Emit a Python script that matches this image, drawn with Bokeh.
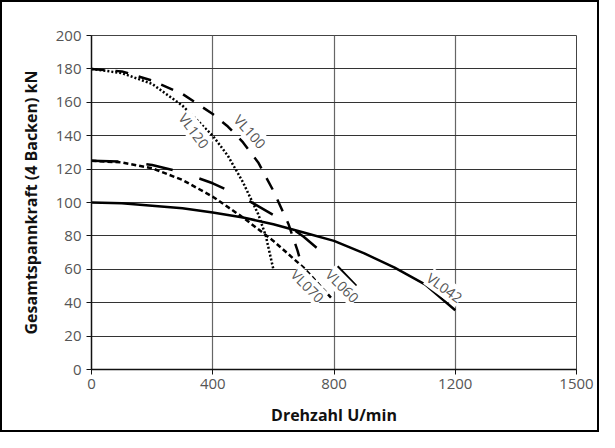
from bokeh.plotting import figure
from bokeh.models import Range1d, FixedTicker, Label
from bokeh.embed import file_html
from bokeh.resources import INLINE
import math

# ---- data ----
vl042_x = [0, 100, 200, 300, 400, 500, 600, 700, 800, 900, 1000, 1100, 1200]
vl042_y = [100, 99.5, 98, 96.5, 94, 91, 87, 82, 77, 69.5, 61, 51, 35.5]

vl120_x = [0, 100, 200, 300, 400, 450, 500, 550, 575, 600]
vl120_y = [180, 177.5, 171, 158, 140, 128, 112, 93, 80, 60]

vl100_x = [0, 100, 200, 300, 400, 450, 500, 550, 600, 650, 680, 697]
vl100_y = [180, 178.5, 173, 165, 153, 145.5, 136, 124, 107, 87, 71, 60]

vl070_x = [0, 100, 200, 300, 400, 500, 600, 700, 790]
vl070_y = [125, 124, 120.5, 113.5, 103.5, 91, 77, 61, 43]

vl060_x = [0, 100, 200, 300, 400, 500, 600, 700, 800, 905]
vl060_y = [125, 124.5, 122.5, 118, 111.5, 103, 92.5, 79.5, 64, 44]

x_ticks = [0, 400, 800, 1200, 1600]
x_tick_labels = ["0", "400", "800", "1200", "1500"]
y_ticks = [0, 20, 40, 60, 80, 100, 120, 140, 160, 180, 200]

x_label = "Drehzahl U/min"
y_label = "Gesamtspannkraft (4 Backen) kN"

FONT = "Open Sans"

p = figure(width=599, height=432, output_backend="svg", toolbar_location=None,
           x_range=Range1d(0, 1600), y_range=Range1d(0, 200),
           min_border_left=89, min_border_right=25, min_border_top=33,
           min_border_bottom=65)
p.styles = {"border": "2px solid black"}

p.background_fill_color = "white"
p.border_fill_color = "white"
p.outline_line_color = "#444444"
p.outline_line_width = 1

p.xaxis.ticker = FixedTicker(ticks=x_ticks)
p.xaxis.major_label_overrides = {t: l for t, l in zip(x_ticks, x_tick_labels)}
p.yaxis.ticker = FixedTicker(ticks=y_ticks)
p.xgrid.ticker = FixedTicker(ticks=x_ticks)
p.ygrid.ticker = FixedTicker(ticks=y_ticks)

p.xgrid.grid_line_color = "#666666"
p.ygrid.grid_line_color = "#333333"
p.xgrid.grid_line_width = 1.2
p.ygrid.grid_line_width = 1.2

for ax in (p.xaxis, p.yaxis):
    ax.axis_line_color = "#111111"
    ax.axis_line_width = 1.5
    ax.major_tick_line_color = "#111111"
    ax.major_tick_in = 0
    ax.major_tick_out = 5
    ax.minor_tick_line_color = None
    ax.major_label_text_font = FONT
    ax.major_label_text_font_size = "15px"
    ax.major_label_text_color = "#555555"
    ax.axis_label_text_font = FONT
    ax.axis_label_text_font_size = "16px"
    ax.axis_label_text_font_style = "bold"
    ax.axis_label_text_color = "#111111"

p.xaxis.axis_label = x_label
p.yaxis.axis_label = y_label
p.xaxis.major_label_standoff = 4
p.yaxis.major_label_standoff = 5
p.xaxis.axis_label_standoff = 12
p.yaxis.axis_label_standoff = 11

lw = 2.5
p.line(vl042_x, vl042_y, line_color="black", line_width=lw)
p.line(vl120_x, vl120_y, line_color="black", line_width=lw, line_dash="2 2")
p.line(vl100_x, vl100_y, line_color="black", line_width=lw, line_dash="13 11")
p.line(vl070_x, vl070_y, line_color="black", line_width=lw, line_dash="5 3")
p.line(vl060_x, vl060_y, line_color="black", line_width=lw, line_dash="27 28")

labels = [("VL120", 338, 143, -53), ("VL100", 523, 142.5, -48),
          ("VL070", 713, 50, -45), ("VL060", 828, 50, -45),
          ("VL042", 1165, 49, -36)]
for txt, lx, ly, ang in labels:
    p.add_layout(Label(x=lx, y=ly, text=txt, angle=math.radians(ang),
                       text_align="center", text_baseline="middle",
                       text_font=FONT, text_font_size="14px",
                       text_color="#555555",
                       background_fill_color="white",
                       background_fill_alpha=1.0))

open("out.html", "w").write(file_html(p, INLINE))
